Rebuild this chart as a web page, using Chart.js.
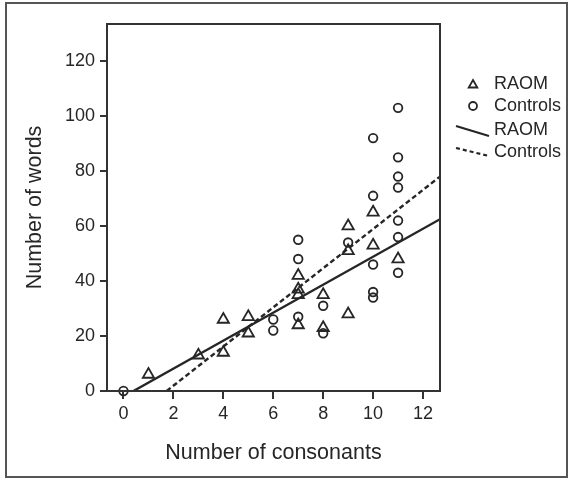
<!DOCTYPE html>
<html>
<head>
<meta charset="utf-8">
<script src="https://cdn.jsdelivr.net/npm/chart.js"></script>
<style>
  html, body { margin: 0; padding: 0; background: #fff; }
  #wrap { width: 574px; height: 480px; }
</style>
</head>
<body>
<div id="wrap"><canvas id="scatter" width="574" height="480"></canvas></div>
<script>
// values
const raomX = [1, 3, 4, 4, 5, 5, 7, 7, 7, 7, 8, 8, 9, 9, 9, 10, 10, 11];
const raomY = [6, 13, 26, 14, 27, 21, 42, 37, 35, 24, 35, 23, 60, 51, 28, 65, 53, 48];

const ctrlX = [0, 6, 6, 7, 7, 7, 8, 8, 9, 10, 10, 10, 10, 10, 11, 11, 11, 11, 11, 11, 11];
const ctrlY = [0, 26, 22, 55, 48, 27, 31, 21, 54, 92, 71, 46, 36, 34, 103, 85, 78, 74, 62, 56, 43];

// fit lines: where they leave the x axis and where they meet the right edge
const raomFitX = [0.4, 12.68];
const raomFitY = [0, 62.5];
const ctrlFitX = [1.73, 12.68];
const ctrlFitY = [0, 78];

const xTicks = [0, 2, 4, 6, 8, 10, 12];
const yTicks = [0, 20, 40, 60, 80, 100, 120];

const seriesLabels = ['RAOM', 'Controls', 'RAOM', 'Controls'];

const ink = '#262626';
const fontFamily = '"Liberation Sans", Arial, sans-serif';

function pairs(xs, ys) {
  return xs.map((x, i) => ({ x: x, y: ys[i] }));
}

// box around the plot area plus the frame around the whole figure
const framePlugin = {
  id: 'frames',
  afterDraw(chart) {
    const { ctx, chartArea } = chart;
    ctx.save();
    ctx.strokeStyle = '#555';
    ctx.lineWidth = 2;
    ctx.strokeRect(6, 3, 561, 474);
    ctx.strokeStyle = '#333';
    ctx.lineWidth = 2;
    ctx.strokeRect(chartArea.left, chartArea.top,
      chartArea.right - chartArea.left, chartArea.bottom - chartArea.top);
    ctx.restore();
  }
};

// SPSS style legend at the right, lines drawn slanted
const legendPlugin = {
  id: 'spssLegend',
  afterDraw(chart) {
    const ctx = chart.ctx;
    const ds = chart.data.datasets;
    ctx.save();
    const rows = [84, 106, 130, 152];
    const tx = 494;

    ctx.strokeStyle = ink;
    ctx.fillStyle = 'rgba(0,0,0,0)';
    ctx.lineWidth = 1.8;
    Chart.helpers.drawPoint(ctx, { pointStyle: 'triangle', radius: 5, rotation: 0, borderWidth: 1.8 }, 473, rows[0] + 1);
    Chart.helpers.drawPoint(ctx, { pointStyle: 'circle', radius: 4, rotation: 0, borderWidth: 1.8 }, 473, rows[1]);

    ctx.lineWidth = 2.2;
    ctx.beginPath();
    ctx.moveTo(456, rows[2] - 4);
    ctx.lineTo(489, rows[2] + 6);
    ctx.stroke();

    ctx.setLineDash([4, 3]);
    ctx.beginPath();
    ctx.moveTo(456, rows[3] - 4);
    ctx.lineTo(489, rows[3] + 4);
    ctx.stroke();
    ctx.setLineDash([]);

    ctx.font = '18px ' + fontFamily;
    ctx.fillStyle = ink;
    ctx.textBaseline = 'middle';
    ctx.textAlign = 'left';
    ds.forEach((d, i) => ctx.fillText(d.label, tx, rows[i]));
    ctx.restore();
  }
};

new Chart(document.getElementById('scatter'), {
  type: 'scatter',
  data: {
    datasets: [
      {
        label: seriesLabels[0],
        data: pairs(raomX, raomY),
        pointStyle: 'triangle',
        pointRadius: 6.5,
        pointHoverRadius: 6.5,
        borderColor: ink,
        backgroundColor: 'rgba(0,0,0,0)',
        borderWidth: 1.8,
        clip: false
      },
      {
        label: seriesLabels[1],
        data: pairs(ctrlX, ctrlY),
        pointStyle: 'circle',
        pointRadius: 4.3,
        pointHoverRadius: 4.3,
        borderColor: ink,
        backgroundColor: 'rgba(0,0,0,0)',
        borderWidth: 1.8,
        clip: false
      },
      {
        label: seriesLabels[2],
        data: pairs(raomFitX, raomFitY),
        showLine: true,
        pointRadius: 0,
        borderColor: ink,
        borderWidth: 2.4,
        fill: false
      },
      {
        label: seriesLabels[3],
        data: pairs(ctrlFitX, ctrlFitY),
        showLine: true,
        pointRadius: 0,
        borderColor: ink,
        borderWidth: 2.4,
        borderDash: [5, 3],
        fill: false
      }
    ]
  },
  options: {
    responsive: false,
    animation: false,
    layout: { padding: { left: 0, right: 134, top: 24, bottom: 0 } },
    plugins: {
      legend: { display: false },
      tooltip: { enabled: false }
    },
    scales: {
      x: {
        type: 'linear',
        min: -0.66,
        max: 12.68,
        afterBuildTicks: s => { s.ticks = xTicks.map(v => ({ value: v })); },
        afterFit: s => { s.height = 89; },
        border: { display: false },
        grid: { drawOnChartArea: false, drawTicks: true, tickLength: 8, color: '#333', lineWidth: 2 },
        ticks: { color: ink, padding: 4, font: { family: fontFamily, size: 18 } },
        title: {
          display: true,
          text: 'Number of consonants',
          color: ink,
          padding: { top: 0, bottom: 14 },
          font: { family: fontFamily, size: 21.5 }
        }
      },
      y: {
        type: 'linear',
        min: 0,
        max: 133.5,
        afterBuildTicks: s => { s.ticks = yTicks.map(v => ({ value: v })); },
        afterFit: s => { s.width = 107; },
        border: { display: false },
        grid: { drawOnChartArea: false, drawTicks: true, tickLength: 7, color: '#333', lineWidth: 2 },
        ticks: { color: ink, padding: 5, font: { family: fontFamily, size: 18 } },
        title: {
          display: true,
          text: 'Number of words',
          color: ink,
          padding: { top: 22, bottom: 0 },
          font: { family: fontFamily, size: 21.5 }
        }
      }
    }
  },
  plugins: [framePlugin, legendPlugin]
});
</script>
</body>
</html>
